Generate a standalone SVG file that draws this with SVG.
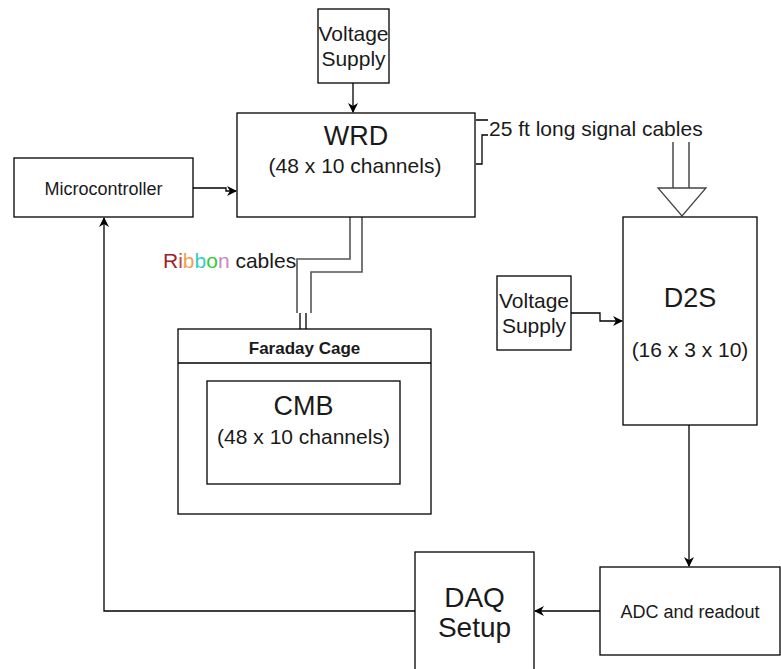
<svg xmlns="http://www.w3.org/2000/svg" width="781" height="669" viewBox="0 0 781 669">
<defs>
<style>
.box{fill:#fff;stroke:#000;stroke-width:1.3}
.ln{fill:none;stroke:#000;stroke-width:1.3}
.dl{fill:none;stroke:#555;stroke-width:1.6}
.t{font-family:"Liberation Sans",Arial,sans-serif;fill:#1a1a1a;text-anchor:middle}
</style>
<marker id="ah" viewBox="0 0 10 10" refX="9" refY="5" markerWidth="10" markerHeight="10" markerUnits="userSpaceOnUse" orient="auto">
<path d="M0,0 L10,5 L0,10 L3,5 Z" fill="#000"/>
</marker>
</defs>
<g id="connectors">
<path class="ln" d="M353,83 V112" marker-end="url(#ah)"/>
<path class="ln" d="M193,188 H226 V191 H236" marker-end="url(#ah)"/>
<path class="ln" d="M571,313 H600 V321 H622" marker-end="url(#ah)"/>
<path class="ln" d="M689,425 V566" marker-end="url(#ah)"/>
<path class="ln" d="M600,611 H535" marker-end="url(#ah)"/>
<path class="ln" d="M415,611 H104 V218" marker-end="url(#ah)"/>
<path class="ln" d="M476,120 H488 M476,164 H482 V135 H488"/>
<path class="dl" d="M673,142 V188 M689,142 V188"/>
<path d="M658,188 H706 L682,216 Z" fill="#fff" stroke="#444" stroke-width="1.3"/>
<path class="dl" d="M350,217 V259 H297 V313 M362,217 V272 H311 V313"/>
<path class="ln" d="M300,313 V329 M306,313 V329 M301,363 V381 M306,363 V381"/>
</g>
<g id="voltage1">
<rect class="box" x="318" y="9" width="71" height="74"/>
<text class="t" x="353.5" y="41" font-size="21">Voltage</text>
<text class="t" x="353.5" y="66" font-size="21">Supply</text>
</g>
<g id="wrd">
<rect class="box" x="237" y="113" width="238" height="104"/>
<text class="t" x="356" y="145" font-size="27">WRD</text>
<text class="t" x="355" y="173" font-size="21">(48 x 10 channels)</text>
</g>
<g id="microcontroller">
<rect class="box" x="14" y="158" width="179" height="59"/>
<text class="t" x="103.5" y="195" font-size="18">Microcontroller</text>
</g>
<g id="signal-label">
<text x="489" y="136" font-family="Liberation Sans,Arial,sans-serif" font-size="21" fill="#1a1a1a">25 ft long signal cables</text>
</g>
<g id="ribbon-label">
<text x="163" y="268" font-family="Liberation Sans,Arial,sans-serif" font-size="21" fill="#1a1a1a"><tspan fill="#a0202a">R</tspan><tspan fill="#c04848">i</tspan><tspan fill="#f5a050">b</tspan><tspan fill="#33cccc">b</tspan><tspan fill="#33cc33">o</tspan><tspan fill="#cc88bb">n</tspan> cables</text>
</g>
<g id="faraday-cage">
<rect class="box" x="178" y="329" width="253" height="185"/>
<line class="ln" x1="178" y1="363" x2="431" y2="363"/>
<text class="t" x="304.5" y="354" font-size="17" font-weight="bold">Faraday Cage</text>
</g>
<g id="cmb">
<rect class="box" x="207" y="381" width="193" height="103"/>
<text class="t" x="303.5" y="415" font-size="27">CMB</text>
<text class="t" x="303.5" y="444" font-size="21">(48 x 10 channels)</text>
</g>
<g id="d2s">
<rect class="box" x="623" y="217" width="134" height="208"/>
<text class="t" x="690" y="307" font-size="27">D2S</text>
<text class="t" x="690" y="357" font-size="21">(16 x 3 x 10)</text>
</g>
<g id="voltage2">
<rect class="box" x="497" y="276" width="74" height="74"/>
<text class="t" x="534" y="308" font-size="21">Voltage</text>
<text class="t" x="534" y="333" font-size="21">Supply</text>
</g>
<g id="adc">
<rect class="box" x="600" y="567" width="180" height="88"/>
<text class="t" x="690" y="618" font-size="18">ADC and readout</text>
</g>
<g id="daq">
<rect class="box" x="415" y="552" width="119" height="130"/>
<text class="t" x="474.5" y="607" font-size="28">DAQ</text>
<text class="t" x="474.5" y="637" font-size="28">Setup</text>
</g>
</svg>
